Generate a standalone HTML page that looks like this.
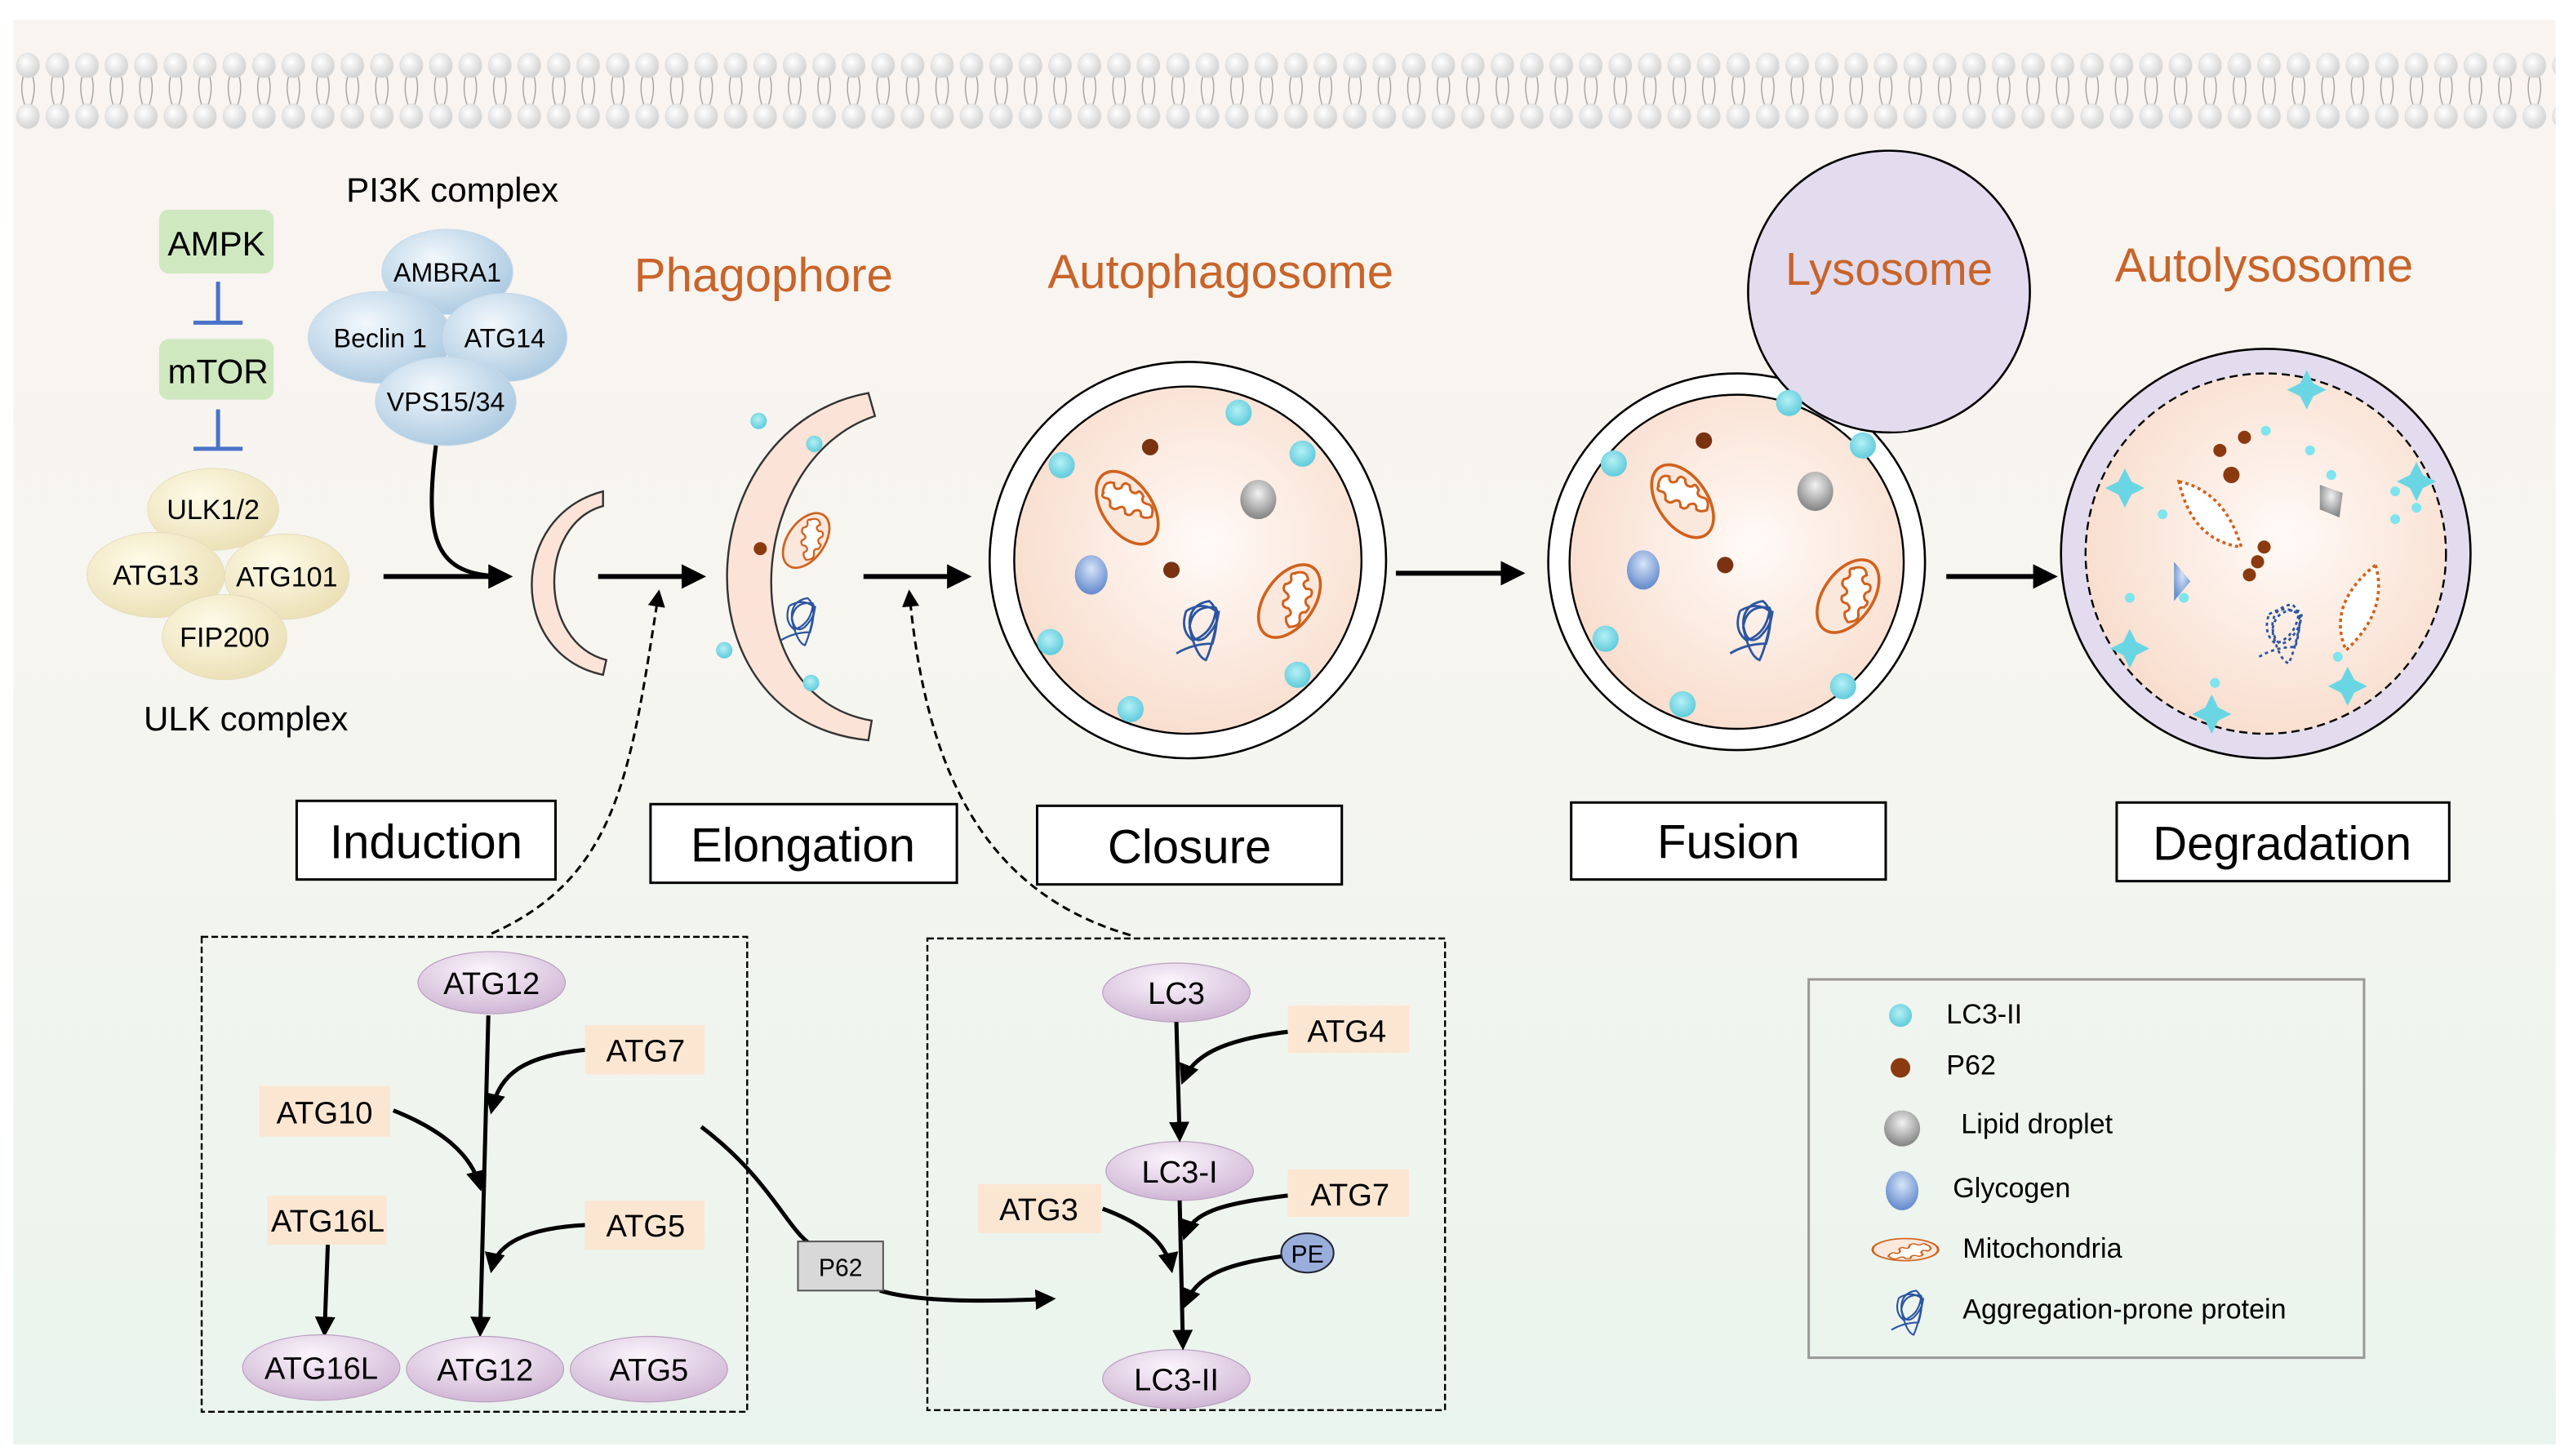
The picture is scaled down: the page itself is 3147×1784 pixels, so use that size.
<!DOCTYPE html>
<html><head><meta charset="utf-8"><style>html,body{margin:0;padding:0;background:#fff}svg{display:block}text{font-family:"Liberation Sans",Arial,sans-serif}</style></head>
<body>
<svg width="3147" height="1784" viewBox="0 0 1568 889" xmlns="http://www.w3.org/2000/svg">
<defs>
<linearGradient id="bg" x1="0" y1="0" x2="0" y2="1"><stop offset="0" stop-color="#faf4f0"/><stop offset="0.5" stop-color="#f5f5ef"/><stop offset="1" stop-color="#eaf4ee"/></linearGradient>
<radialGradient id="inside" cx="0.55" cy="0.45" r="0.6"><stop offset="0" stop-color="#fffaf7"/><stop offset="1" stop-color="#f8dccb"/></radialGradient>
<radialGradient id="head" cx="0.4" cy="0.35" r="0.7"><stop offset="0" stop-color="#ffffff"/><stop offset="1" stop-color="#cfcfcf"/></radialGradient>
<radialGradient id="cream" cx="0.4" cy="0.35" r="0.7"><stop offset="0" stop-color="#fffbe8"/><stop offset="1" stop-color="#eadfb4"/></radialGradient>
<radialGradient id="blu" cx="0.4" cy="0.35" r="0.7"><stop offset="0" stop-color="#f2f8fc"/><stop offset="1" stop-color="#a9c8e0"/></radialGradient>
<radialGradient id="purp" cx="0.45" cy="0.3" r="0.75"><stop offset="0" stop-color="#fbf5fc"/><stop offset="1" stop-color="#cdb2d2"/></radialGradient>
<radialGradient id="cy" cx="0.45" cy="0.4" r="0.6"><stop offset="0" stop-color="#b5f0f5"/><stop offset="1" stop-color="#5fcbdc"/></radialGradient>
<radialGradient id="gr" cx="0.5" cy="0.35" r="0.6"><stop offset="0" stop-color="#f2f2f2"/><stop offset="1" stop-color="#8a8a8a"/></radialGradient>
<radialGradient id="gb" cx="0.5" cy="0.35" r="0.6"><stop offset="0" stop-color="#d6e4f8"/><stop offset="1" stop-color="#6a8fcf"/></radialGradient>
<marker id="ar" viewBox="0 0 10 10" refX="8" refY="5" markerWidth="5" markerHeight="5" orient="auto"><path d="M0,0 L10,5 L0,10 z" fill="#000"/></marker>
<marker id="ars" viewBox="0 0 10 10" refX="8" refY="5" markerWidth="7" markerHeight="7" orient="auto"><path d="M0,0 L10,5 L0,10 z" fill="#000"/></marker>
<g id="mito"><ellipse cx="0" cy="0" rx="15" ry="25" fill="#fbe8dc" stroke="#d0611c" stroke-width="1.8"/><path d="M-7,-16 q5,-6 9,-1 q-3,4 2,5 q4,-3 5,2 q-3,4 1,6 q3,-1 2,4 q-4,2 0,6 q2,3 -3,7 q-4,-1 -5,-4 q3,-4 -2,-5 q-4,2 -5,-2 q3,-4 -1,-5 q-4,0 -4,-4 q3,-3 1,-5 q-3,-3 1,-4z" fill="#fff" stroke="#d0611c" stroke-width="1.5"/></g>
<g id="scr" fill="none" stroke="#2c55a0" stroke-width="1.4"><path d="M-14,16 q10,-6 22,-6 q6,-20 -2,-26 q-12,2 -12,14 q2,14 10,8 q10,-10 6,-18 q-14,-2 -16,12 q4,18 10,20 q4,-8 8,-30 M-8,-10 q10,-6 18,0 q-2,14 -14,18 q-8,-6 -4,-18"/></g>
</defs>
<rect width="1568" height="889" fill="#fff"/>
<rect x="8" y="12" width="1552" height="870" fill="url(#bg)"/>
<pattern id="mp" x="8" y="0" width="18" height="90" patternUnits="userSpaceOnUse">
<path d="M6,47 q-2,8 1,17 M12,47 q2,8 -1,17" stroke="#a0a0a0" stroke-width="0.7" fill="none"/>
<ellipse cx="9" cy="40" rx="7" ry="7.5" fill="url(#head)" stroke="#dcdcdc" stroke-width="0.4"/>
<ellipse cx="9" cy="71" rx="7" ry="7.5" fill="url(#head)" stroke="#dcdcdc" stroke-width="0.4"/>
</pattern>
<rect x="8" y="30" width="1552" height="52" fill="url(#mp)"/>

<!-- AMPK / mTOR -->
<rect x="97" y="128" width="70" height="39" rx="6" fill="#cfe8c0"/>
<text x="132" y="156" font-size="21" text-anchor="middle">AMPK</text>
<path d="M133,172 V197 M118,197 H148" stroke="#4a72c8" stroke-width="2.5"/>
<rect x="97" y="207" width="70" height="37" rx="6" fill="#cfe8c0"/>
<text x="133" y="234" font-size="21" text-anchor="middle">mTOR</text>
<path d="M133,250 V274 M118,274 H148" stroke="#4a72c8" stroke-width="2.5"/>
<g fill="url(#cream)" stroke="#e5dcc0" stroke-width="0.5">
<ellipse cx="130" cy="311" rx="40" ry="25"/>
<ellipse cx="95" cy="351" rx="42" ry="26"/>
<ellipse cx="175" cy="352" rx="38" ry="26"/>
<ellipse cx="137" cy="389" rx="38" ry="26"/>
</g>
<g font-size="17" text-anchor="middle"><text x="130" y="317">ULK1/2</text><text x="95" y="357">ATG13</text><text x="175" y="358">ATG101</text><text x="137" y="395">FIP200</text></g>
<text x="150" y="446" font-size="21" text-anchor="middle">ULK complex</text>
<text x="276" y="123" font-size="21" text-anchor="middle">PI3K complex</text>
<g fill="url(#blu)" stroke="#c5d8e8" stroke-width="0.5">
<ellipse cx="273" cy="166" rx="40" ry="26"/>
<ellipse cx="232" cy="206" rx="44" ry="28"/>
<ellipse cx="308" cy="206" rx="38" ry="27"/>
<ellipse cx="272" cy="245" rx="43" ry="27"/>
</g>
<g font-size="16" text-anchor="middle"><text x="273" y="172">AMBRA1</text><text x="232" y="212">Beclin 1</text><text x="308" y="212">ATG14</text><text x="272" y="251">VPS15/34</text></g>
<path d="M266,272 C258,335 268,352 310,352" stroke="#000" stroke-width="2.5" fill="none" marker-end="url(#ar)"/>
<path d="M234,352 H310" stroke="#000" stroke-width="3" marker-end="url(#ar)"/>
<path d="M368,300 C310,315 310,400 368,412 L370,403 C328,392 328,320 368,309 Z" fill="#fbe3d7" stroke="#333" stroke-width="1.2"/>
<path d="M365,352 H428" stroke="#000" stroke-width="3" marker-end="url(#ar)"/>
<path d="M530,240 C420,260 410,440 530,452 L532,440 C445,425 455,280 534,254 Z" fill="#fbe3d7" stroke="#333" stroke-width="1.2"/>
<circle cx="463" cy="257" r="5" fill="url(#cy)"/><circle cx="497" cy="271" r="5" fill="url(#cy)"/><circle cx="442" cy="397" r="5" fill="url(#cy)"/><circle cx="495" cy="417" r="5" fill="url(#cy)"/>
<circle cx="464" cy="335" r="4" fill="#8b3a10"/>
<use href="#mito" transform="translate(492,330) rotate(35) scale(0.75)"/>
<use href="#scr" transform="translate(488,378) scale(0.8)"/>
<path d="M527,352 H590" stroke="#000" stroke-width="3" marker-end="url(#ar)"/>
<circle cx="725" cy="342" r="121" fill="#fff" stroke="#000" stroke-width="1.3"/>
<circle cx="725" cy="342" r="106" fill="url(#inside)" stroke="#000" stroke-width="1.2"/>
<g fill="url(#cy)"><circle cx="648" cy="284" r="8"/><circle cx="756" cy="252" r="8"/><circle cx="795" cy="277" r="8"/><circle cx="641" cy="392" r="8"/><circle cx="690" cy="433" r="8"/><circle cx="792" cy="412" r="8"/></g>
<g fill="#7a3210"><circle cx="702" cy="273" r="5"/><circle cx="715" cy="348" r="5"/></g>
<use href="#mito" transform="translate(688,310) rotate(-35)"/>
<use href="#mito" transform="translate(787,367) rotate(35)"/>
<ellipse cx="768" cy="305" rx="11" ry="12" fill="url(#gr)"/>
<ellipse cx="666" cy="351" rx="10" ry="12" fill="url(#gb)"/>
<use href="#scr" transform="translate(732,383)"/>
<path d="M852,350 H928" stroke="#000" stroke-width="3" marker-end="url(#ar)"/>
<circle cx="1060" cy="343" r="115" fill="#fff" stroke="#000" stroke-width="1.3"/>
<circle cx="1153" cy="178" r="86" fill="#e2dcee" stroke="#000" stroke-width="1.3"/>
<path d="M1103,245 A86,86 0 0 0 1165,263 A115,115 0 0 0 1100,236 Z" fill="#e2dcee"/>
<circle cx="1060" cy="343" r="102" fill="url(#inside)" stroke="#000" stroke-width="1.2"/>
<text x="1153" y="174" font-size="28" fill="#c8642a" text-anchor="middle">Lysosome</text>
<g fill="url(#cy)"><circle cx="985" cy="283" r="8"/><circle cx="1092" cy="246" r="8"/><circle cx="1137" cy="272" r="8"/><circle cx="980" cy="390" r="8"/><circle cx="1027" cy="430" r="8"/><circle cx="1125" cy="419" r="8"/></g>
<g fill="#7a3210"><circle cx="1040" cy="269" r="5"/><circle cx="1053" cy="345" r="5"/></g>
<use href="#mito" transform="translate(1027,306) rotate(-35)"/>
<use href="#mito" transform="translate(1128,364) rotate(35)"/>
<ellipse cx="1108" cy="300" rx="11" ry="12" fill="url(#gr)"/>
<ellipse cx="1003" cy="348" rx="10" ry="12" fill="url(#gb)"/>
<use href="#scr" transform="translate(1070,383)"/>
<path d="M1188,352 H1253" stroke="#000" stroke-width="3" marker-end="url(#ar)"/>
<circle cx="1383" cy="338" r="125" fill="#e2dcee" stroke="#000" stroke-width="1.3"/>
<circle cx="1383" cy="338" r="110" fill="url(#inside)" stroke="#000" stroke-width="1.2" stroke-dasharray="5,3"/>
<g fill="#6ad6e4"><path d="M1408,226 l4,8 8,4 -8,4 -4,8 -4,-8 -8,-4 8,-4z"/><path d="M1297,286 l4,8 8,4 -8,4 -4,8 -4,-8 -8,-4 8,-4z"/><path d="M1475,282 l4,8 8,4 -8,4 -4,8 -4,-8 -8,-4 8,-4z"/><path d="M1300,384 l4,8 8,4 -8,4 -4,8 -4,-8 -8,-4 8,-4z"/><path d="M1350,424 l4,8 8,4 -8,4 -4,8 -4,-8 -8,-4 8,-4z"/><path d="M1433,407 l4,8 8,4 -8,4 -4,8 -4,-8 -8,-4 8,-4z"/></g>
<g fill="#7ee4ee"><circle cx="1383" cy="263" r="3"/><circle cx="1423" cy="290" r="3"/><circle cx="1462" cy="300" r="3"/><circle cx="1475" cy="310" r="3"/><circle cx="1462" cy="317" r="3"/><circle cx="1320" cy="314" r="3"/><circle cx="1410" cy="275" r="3"/><circle cx="1300" cy="365" r="3"/><circle cx="1333" cy="365" r="3"/><circle cx="1352" cy="417" r="3"/><circle cx="1427" cy="401" r="3"/></g>
<g fill="#8b3a10"><circle cx="1355" cy="275" r="4"/><circle cx="1370" cy="267" r="4"/><circle cx="1362" cy="290" r="5"/><circle cx="1382" cy="334" r="4"/><circle cx="1373" cy="351" r="4"/><circle cx="1378" cy="343" r="4"/></g>
<path d="M1330,294 q28,6 38,40 q-30,-4 -38,-40z" fill="#fff" stroke="#d0611c" stroke-width="1.8" stroke-dasharray="2,2"/>
<path d="M1450,345 q8,28 -18,52 q-12,-28 18,-52z" fill="#fff" stroke="#d0611c" stroke-width="1.8" stroke-dasharray="2,2"/>
<path d="M1416,296 l14,5 -2,15 -12,-5 z" fill="url(#gr)"/>
<path d="M1327,343 l10,12 -10,12 z" fill="url(#gb)"/>
<use href="#scr" transform="translate(1393,385)" stroke-dasharray="2,2"/>
<g font-size="29" fill="#c8642a" text-anchor="middle"><text x="466" y="178">Phagophore</text><text x="745" y="176">Autophagosome</text><text x="1382" y="172">Autolysosome</text></g>
<g fill="#fff" stroke="#000" stroke-width="1.5">
<rect x="181" y="489" width="158" height="48"/><rect x="397" y="491" width="187" height="48"/><rect x="633" y="492" width="186" height="48"/><rect x="959" y="490" width="192" height="47"/><rect x="1292" y="490" width="203" height="48"/></g>
<g font-size="29" text-anchor="middle"><text x="260" y="524">Induction</text><text x="490" y="526">Elongation</text><text x="726" y="527">Closure</text><text x="1055" y="524">Fusion</text><text x="1393" y="525">Degradation</text></g>
<path d="M300,570 C378,535 385,470 402,362" stroke="#000" stroke-width="1.5" stroke-dasharray="5,3" fill="none" marker-end="url(#ars)"/>
<path d="M690,571 C600,545 565,470 555,362" stroke="#000" stroke-width="1.5" stroke-dasharray="5,3" fill="none" marker-end="url(#ars)"/>
<rect x="123" y="572" width="333" height="290" fill="none" stroke="#000" stroke-width="1.2" stroke-dasharray="4,2"/>
<rect x="566" y="573" width="316" height="288" fill="none" stroke="#000" stroke-width="1.2" stroke-dasharray="4,2"/>
<g stroke="#000" stroke-width="2.5" fill="none" marker-end="url(#ar)">
<path d="M298,620 L293,814"/>
<path d="M357,641 C320,645 305,655 300,678"/>
<path d="M240,678 C270,690 288,705 293,725"/>
<path d="M357,748 C320,750 303,760 300,775"/>
<path d="M200,760 L198,814"/>
<path d="M537,788 C560,795 600,795 642,793"/>
</g>
<path d="M428,688 C470,720 480,750 495,760" stroke="#000" stroke-width="2.5" fill="none"/>
<g fill="#fbe6d2"><rect x="357" y="626" width="73" height="30"/><rect x="158" y="663" width="80" height="31"/><rect x="163" y="730" width="73" height="30"/><rect x="357" y="733" width="73" height="30"/>
<rect x="786" y="614" width="74" height="29"/><rect x="597" y="723" width="75" height="30"/><rect x="786" y="714" width="74" height="29"/></g>
<g fill="url(#purp)" stroke="#b9a0bf" stroke-width="0.6">
<ellipse cx="300" cy="600" rx="45" ry="19"/><ellipse cx="196" cy="835" rx="48" ry="20"/><ellipse cx="296" cy="836" rx="48" ry="20"/><ellipse cx="396" cy="836" rx="48" ry="20"/>
<ellipse cx="718" cy="606" rx="45" ry="18"/><ellipse cx="720" cy="715" rx="45" ry="18"/><ellipse cx="718" cy="842" rx="45" ry="18"/></g>
<rect x="487" y="758" width="52" height="30" fill="#d8d8d8" stroke="#555" stroke-width="1"/>
<text x="513" y="779" font-size="15" text-anchor="middle">P62</text>
<g font-size="19" text-anchor="middle">
<text x="300" y="607">ATG12</text><text x="394" y="648">ATG7</text><text x="198" y="686">ATG10</text><text x="200" y="752">ATG16L</text><text x="394" y="755">ATG5</text>
<text x="196" y="842">ATG16L</text><text x="296" y="843">ATG12</text><text x="396" y="843">ATG5</text>
<text x="718" y="613">LC3</text><text x="822" y="636">ATG4</text><text x="720" y="722">LC3-I</text><text x="634" y="745">ATG3</text><text x="824" y="736">ATG7</text><text x="718" y="849">LC3-II</text></g>
<g stroke="#000" stroke-width="2.5" fill="none" marker-end="url(#ar)">
<path d="M718,624 L720,695"/>
<path d="M786,630 C745,635 728,645 722,660"/>
<path d="M720,733 L722,822"/>
<path d="M786,730 C745,735 728,740 723,755"/>
<path d="M673,738 C700,748 712,760 715,775"/>
<path d="M783,767 C745,772 730,780 723,797"/>
</g>
<ellipse cx="798" cy="765" rx="16" ry="12" fill="#9aaedc" stroke="#223" stroke-width="1"/>
<text x="798" y="771" font-size="15" text-anchor="middle">PE</text>
<rect x="1104" y="598" width="339" height="231" fill="none" stroke="#999" stroke-width="1.5"/>
<circle cx="1160" cy="620" r="7" fill="url(#cy)"/>
<circle cx="1160" cy="652" r="6" fill="#8b3a10"/>
<ellipse cx="1161" cy="689" rx="11" ry="11" fill="url(#gr)"/>
<ellipse cx="1161" cy="727" rx="10" ry="12" fill="url(#gb)"/>
<use href="#mito" transform="translate(1163,763) rotate(90) scale(0.45,0.8)"/>
<use href="#scr" transform="translate(1165,800) scale(0.75)"/>
<g font-size="17"><text x="1188" y="625">LC3-II</text><text x="1188" y="656">P62</text><text x="1197" y="692">Lipid droplet</text><text x="1192" y="731">Glycogen</text><text x="1198" y="768">Mitochondria</text><text x="1198" y="805">Aggregation-prone protein</text></g>
</svg>
</body></html>
